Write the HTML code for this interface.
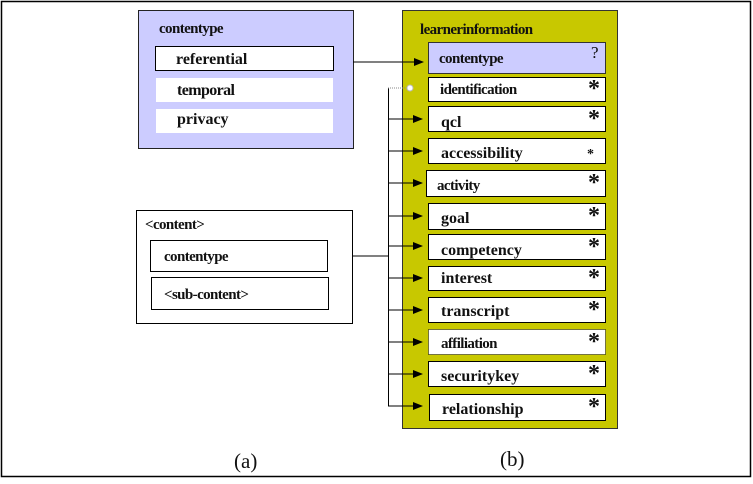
<!DOCTYPE html>
<html><head><meta charset="utf-8"><style>
body{margin:0;width:753px;height:479px;background:#fff;overflow:hidden}
svg{font-family:"Liberation Serif",serif;font-weight:bold;font-size:14px}
svg text{fill:#111}
.c{letter-spacing:-0.6px}
</style></head><body>
<svg width="753" height="479" xmlns="http://www.w3.org/2000/svg">
<defs><marker id="a" markerWidth="10" markerHeight="10" refX="9" refY="4" orient="auto" markerUnits="userSpaceOnUse"><path d="M0,0 L10,4 L0,8 z" fill="#000"/></marker></defs>
<rect x="1.5" y="1.5" width="749" height="475" fill="none" stroke="#000" stroke-width="1.5"/>
<rect x="138.5" y="10.5" width="215" height="138" fill="#ccccff" stroke="#222"/>
<text class="c" x="159" y="33" font-size="15">contentype</text>
<rect x="155.5" y="46.5" width="178" height="24" fill="#fff" stroke="#000"/>
<text x="176" y="64" font-size="16">referential</text>
<rect x="156" y="78" width="177" height="24" fill="#fff"/>
<text class="c" x="177" y="95" font-size="16">temporal</text>
<rect x="156" y="109" width="177" height="24" fill="#fff"/>
<text x="177" y="124" font-size="16">privacy</text>
<rect x="136.5" y="210.5" width="216" height="113" fill="#fff" stroke="#000"/>
<text class="c" x="145" y="229" font-size="15">&lt;content&gt;</text>
<rect x="150.5" y="240.5" width="177" height="31" fill="#fff" stroke="#000"/>
<text class="c" x="164" y="261" font-size="15">contentype</text>
<rect x="151.5" y="277.5" width="177" height="32" fill="#fff" stroke="#000"/>
<text class="c" x="164" y="299" font-size="15">&lt;sub-content&gt;</text>
<rect x="402.5" y="10.5" width="215" height="418" fill="#c8c800" stroke="#333"/>
<text class="c" x="420" y="34" font-size="15">learnerinformation</text>
<rect x="428.5" y="42.5" width="177" height="31" fill="#ccccff" stroke="#333"/>
<text class="c" x="439" y="63" font-size="15">contentype</text>
<text x="591" y="58" font-size="17" font-weight="normal" fill="#444">?</text>
<g fill="#fff" stroke="#000">
<rect x="428.5" y="77.5" width="177" height="24"/>
<rect x="428.5" y="106.5" width="177" height="25"/>
<rect x="428.5" y="138.5" width="177" height="25"/>
<rect x="426.5" y="170.5" width="179" height="26"/>
<rect x="428.5" y="203.5" width="177" height="26"/>
<rect x="428.5" y="234.5" width="177" height="25"/>
<rect x="428.5" y="266.5" width="177" height="24"/>
<rect x="428.5" y="297.5" width="177" height="25"/>
<rect x="428.5" y="329.5" width="177" height="25" stroke-dasharray="1,1"/>
<rect x="428.5" y="361.5" width="177" height="25"/>
<rect x="429.5" y="394.5" width="176" height="26"/>
</g>
<text class="c" x="440" y="94" font-size="15">identification</text>
<text x="441" y="127" font-size="16">qcl</text>
<text x="441" y="158" font-size="16">accessibility</text>
<text class="c" x="437" y="190" font-size="15">activity</text>
<text x="441" y="223" font-size="16">goal</text>
<text x="441" y="255" font-size="16">competency</text>
<text x="441" y="283" font-size="16">interest</text>
<text x="441" y="316" font-size="16">transcript</text>
<text class="c" x="441" y="348" font-size="15">affiliation</text>
<text x="441" y="381" font-size="16">securitykey</text>
<text x="442" y="414" font-size="16">relationship</text>
<g font-size="24">
<text x="588" y="96">*</text><text x="588" y="126">*</text>
<text x="588" y="190">*</text><text x="588" y="223">*</text><text x="588" y="254">*</text>
<text x="588" y="285">*</text><text x="588" y="317">*</text><text x="588" y="349">*</text>
<text x="588" y="381">*</text><text x="588" y="414">*</text>
</g>
<text x="587" y="158" font-size="14">*</text>
<g stroke="#000" stroke-width="1" fill="none">
<line x1="353" y1="62" x2="423" y2="62" marker-end="url(#a)"/>
<line x1="352" y1="256" x2="388" y2="256"/>
<line x1="388.5" y1="88" x2="388.5" y2="406"/>
<line x1="388" y1="88" x2="408" y2="88" stroke="#888" stroke-dasharray="1,1"/>
<line x1="388" y1="119" x2="422" y2="119" marker-end="url(#a)"/>
<line x1="388" y1="151" x2="422" y2="151" marker-end="url(#a)"/>
<line x1="388" y1="183" x2="422" y2="183" marker-end="url(#a)"/>
<line x1="388" y1="216" x2="422" y2="216" marker-end="url(#a)"/>
<line x1="388" y1="246" x2="422" y2="246" marker-end="url(#a)"/>
<line x1="388" y1="278" x2="422" y2="278" marker-end="url(#a)"/>
<line x1="388" y1="310" x2="422" y2="310" marker-end="url(#a)"/>
<line x1="388" y1="342" x2="422" y2="342" marker-end="url(#a)"/>
<line x1="388" y1="374" x2="422" y2="374" marker-end="url(#a)"/>
<line x1="388" y1="406" x2="422" y2="406" marker-end="url(#a)"/>
</g>
<circle cx="410" cy="88" r="3" fill="#fff" stroke="#bbb"/>
<text x="234" y="468" font-size="21" font-weight="normal">(a)</text>
<text x="500" y="466" font-size="21" font-weight="normal">(b)</text>
</svg>
</body></html>
